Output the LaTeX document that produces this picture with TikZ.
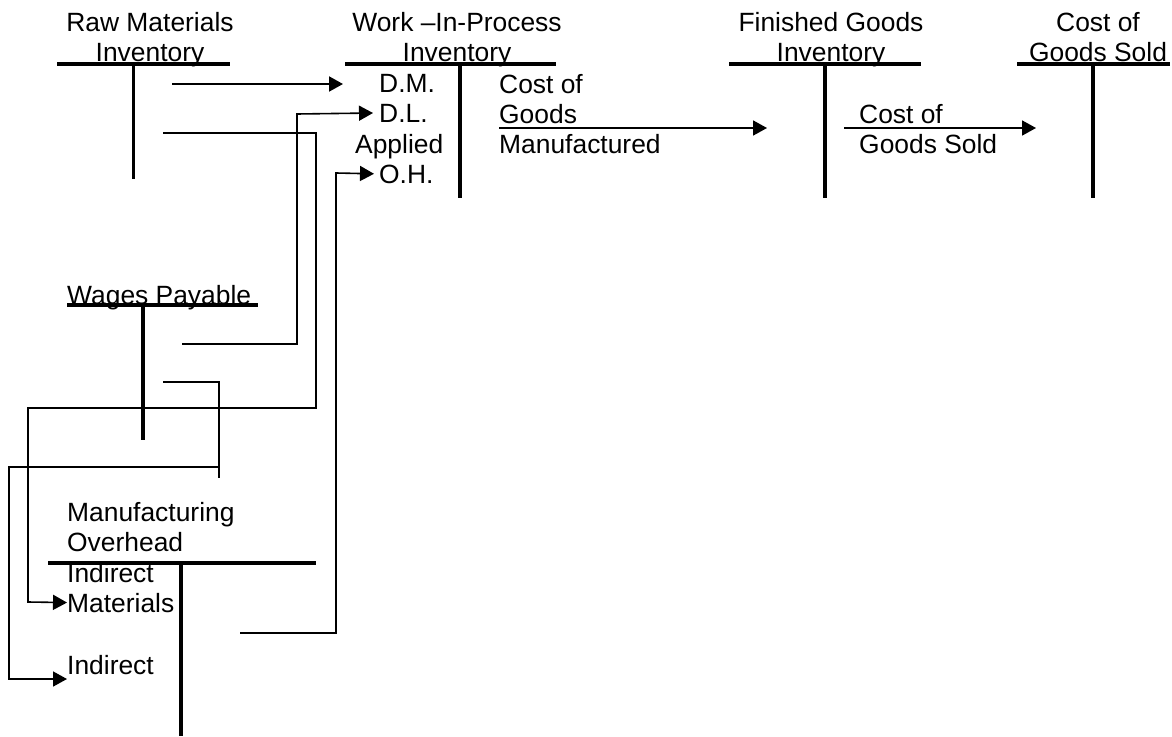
\documentclass[tikz,border=0pt]{standalone}
\usepackage{fontspec}
\setmainfont{Liberation Sans}
\usetikzlibrary{arrows.meta}
\newcommand{\tBarWidth}{3.5pt}
\newcommand{\flowWidth}{1.6pt}
\newcommand{\acctFont}{\fontsize{26.4}{30}\selectfont}
\tikzset{
  acct/.style={line width=\tBarWidth},
  link/.style={line width=\flowWidth},
  flow/.style={link,-{Triangle[length=14pt,width=15pt]}},
  ttl/.style={font=\acctFont,inner sep=0pt,align=center,anchor=base},
  lbl/.style={font=\acctFont,inner sep=0pt,align=left,anchor=base west},
}
\begin{document}
\begin{tikzpicture}[x=1pt,y=-1pt]
\useasboundingbox (0,0) rectangle (1172,736);

% account titles (base = last line)
\node[ttl] (rmTitle) at (150,61) {Raw Materials\\Inventory};
\node[ttl] (wipTitle) at (457,61) {Work –In-Process\\Inventory};
\node[ttl] (fgTitle) at (831,61) {Finished Goods\\Inventory};
\node[ttl] (cogsTitle) at (1098,61) {Cost of\\Goods Sold};
\node[lbl] (wpTitle) at (67,304) {Wages Payable};
\node[lbl] (mohTitle) at (67,551) {Manufacturing\\Overhead};

% entries
\node[lbl] (dm) at (379,92) {D.M.};
\node[lbl] (dl) at (379,122) {D.L.};
\node[lbl] (applied) at (355,153) {Applied};
\node[lbl] (oh) at (379,183) {O.H.};
\node[lbl] (cgm) at (499,153) {Cost of\\Goods\\Manufactured};
\node[lbl] (cogsLbl) at (859,153) {Cost of\\Goods Sold};
\node[lbl] (indMat) at (67,582) {Indirect};
\node[lbl] (matl) at (67,612) {Materials};
\node[lbl] (indLab) at (67,674) {Indirect};

% T accounts
\draw[acct] (57,64) -- (230,64) (133.7,64) -- (133.7,179);
\draw[acct] (345,64) -- (556,64) (460,64) -- (460,198);
\draw[acct] (729,64) -- (921,64) (825,64) -- (825,198);
\draw[acct] (1017,64) -- (1170,64) (1093,64) -- (1093,198);
\draw[acct] (67,305) -- (258,305) (143,305) -- (143,440);
\draw[acct] (48,563) -- (316,563) (181,563) -- (181,736);

% flow ends
\coordinate (rmDM) at (172,84);
\coordinate (rmIM) at (163,133);
\coordinate (wpDL) at (182,344);
\coordinate (wpIL) at (163,382);
\coordinate (mohOH) at (240,633);
\coordinate (cgmOut) at (499,128);
\coordinate (fgIn) at (767,128);
\coordinate (fgOut) at (844,128);
\coordinate (cogsIn) at (1036,128);

\draw[flow,line width=2pt,shorten >=36pt] (rmDM) -- (rmDM -| dm.west);
\draw[flow] (rmIM) -| (316,408) -| (28,602) -- (matl.west);
\draw[flow,shorten >=6pt] (wpDL) -| (297,114) -- (dl.west);
\draw[flow] (wpIL) -| (219,467) -| (9,679) -- ([yshift=-5pt]indLab.base west);
\draw[link] (219,467) -- (219,478);
\draw[flow,shorten >=5pt] (mohOH) -| (336,173) -- (oh.west);
\draw[flow,line width=1.8pt] (cgmOut) -- (fgIn);
\draw[flow,line width=1.8pt] (fgOut) -- (cogsIn);
\end{tikzpicture}
\end{document}
